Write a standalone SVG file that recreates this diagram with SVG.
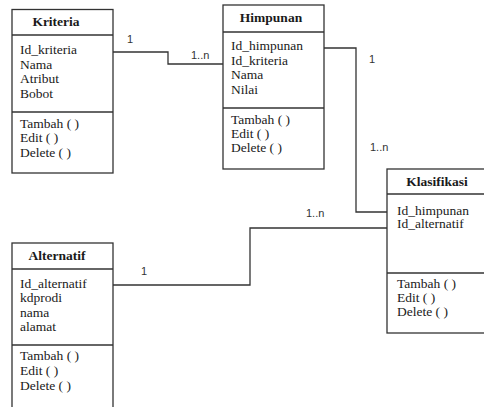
<svg xmlns="http://www.w3.org/2000/svg" width="484" height="407" viewBox="0 0 484 407">
<style>
.box{fill:#fff;stroke:#333;stroke-width:1.3}
.div{stroke:#333;stroke-width:1.3}
.t{font-family:"Liberation Serif","Times New Roman",serif;font-size:13.5px;font-weight:bold;fill:#1a1a1a;text-anchor:middle}
.a{font-family:"Liberation Serif","Times New Roman",serif;font-size:13.5px;fill:#1a1a1a}
.c{fill:none;stroke:#333;stroke-width:1.3}
.l{font-family:"Liberation Sans",Arial,sans-serif;font-size:11px;fill:#333}
</style>
<rect width="484" height="407" fill="#fff"/>
<g id="connectors">
<path class="c" d="M113,52 H168 V64 H223"/>
<path class="c" d="M324,48 H356 V212 H387"/>
<path class="c" d="M113,285 H250 V228 H387"/>
<text class="l" x="127" y="43">1</text>
<text class="l" x="191" y="59">1..n</text>
<text class="l" x="369" y="63">1</text>
<text class="l" x="370" y="151">1..n</text>
<text class="l" x="306" y="217">1..n</text>
<text class="l" x="141" y="275">1</text>
</g>
<g id="kriteria">
<rect class="box" x="12" y="9.5" width="101" height="163.5"/>
<line class="div" x1="12" y1="35" x2="113" y2="35"/>
<line class="div" x1="12" y1="112" x2="113" y2="112"/>
<text class="t" x="56" y="26">Kriteria</text>
<text class="a" x="20" y="54">Id_kriteria</text>
<text class="a" x="20" y="68.5">Nama</text>
<text class="a" x="20" y="83">Atribut</text>
<text class="a" x="20" y="97.5">Bobot</text>
<text class="a" x="20" y="127.5">Tambah ( )</text>
<text class="a" x="20" y="142">Edit ( )</text>
<text class="a" x="20" y="156.5">Delete ( )</text>
</g>
<g id="himpunan">
<rect class="box" x="223" y="5" width="101" height="164"/>
<line class="div" x1="223" y1="32" x2="324" y2="32"/>
<line class="div" x1="223" y1="108" x2="324" y2="108"/>
<text class="t" x="271" y="22">Himpunan</text>
<text class="a" x="231" y="49.5">Id_himpunan</text>
<text class="a" x="231" y="64.5">Id_kriteria</text>
<text class="a" x="231" y="79">Nama</text>
<text class="a" x="231" y="93.5">Nilai</text>
<text class="a" x="231" y="123.5">Tambah ( )</text>
<text class="a" x="231" y="137.5">Edit ( )</text>
<text class="a" x="231" y="151.5">Delete ( )</text>
</g>
<g id="klasifikasi">
<rect class="box" x="387" y="169" width="110" height="164"/>
<line class="div" x1="387" y1="194" x2="497" y2="194"/>
<line class="div" x1="387" y1="273" x2="497" y2="273"/>
<text class="t" x="437" y="186">Klasifikasi</text>
<text class="a" x="397" y="214.5">Id_himpunan</text>
<text class="a" x="397" y="228">Id_alternatif</text>
<text class="a" x="397" y="287.5">Tambah ( )</text>
<text class="a" x="397" y="301.5">Edit ( )</text>
<text class="a" x="397" y="315.5">Delete ( )</text>
</g>
<g id="alternatif">
<rect class="box" x="12" y="243" width="101" height="180"/>
<line class="div" x1="12" y1="269" x2="113" y2="269"/>
<line class="div" x1="12" y1="345" x2="113" y2="345"/>
<text class="t" x="57" y="260">Alternatif</text>
<text class="a" x="20" y="287.5">Id_alternatif</text>
<text class="a" x="20" y="302">kdprodi</text>
<text class="a" x="20" y="316.5">nama</text>
<text class="a" x="20" y="331">alamat</text>
<text class="a" x="20" y="360">Tambah ( )</text>
<text class="a" x="20" y="375">Edit ( )</text>
<text class="a" x="20" y="389.5">Delete ( )</text>
</g>
</svg>
